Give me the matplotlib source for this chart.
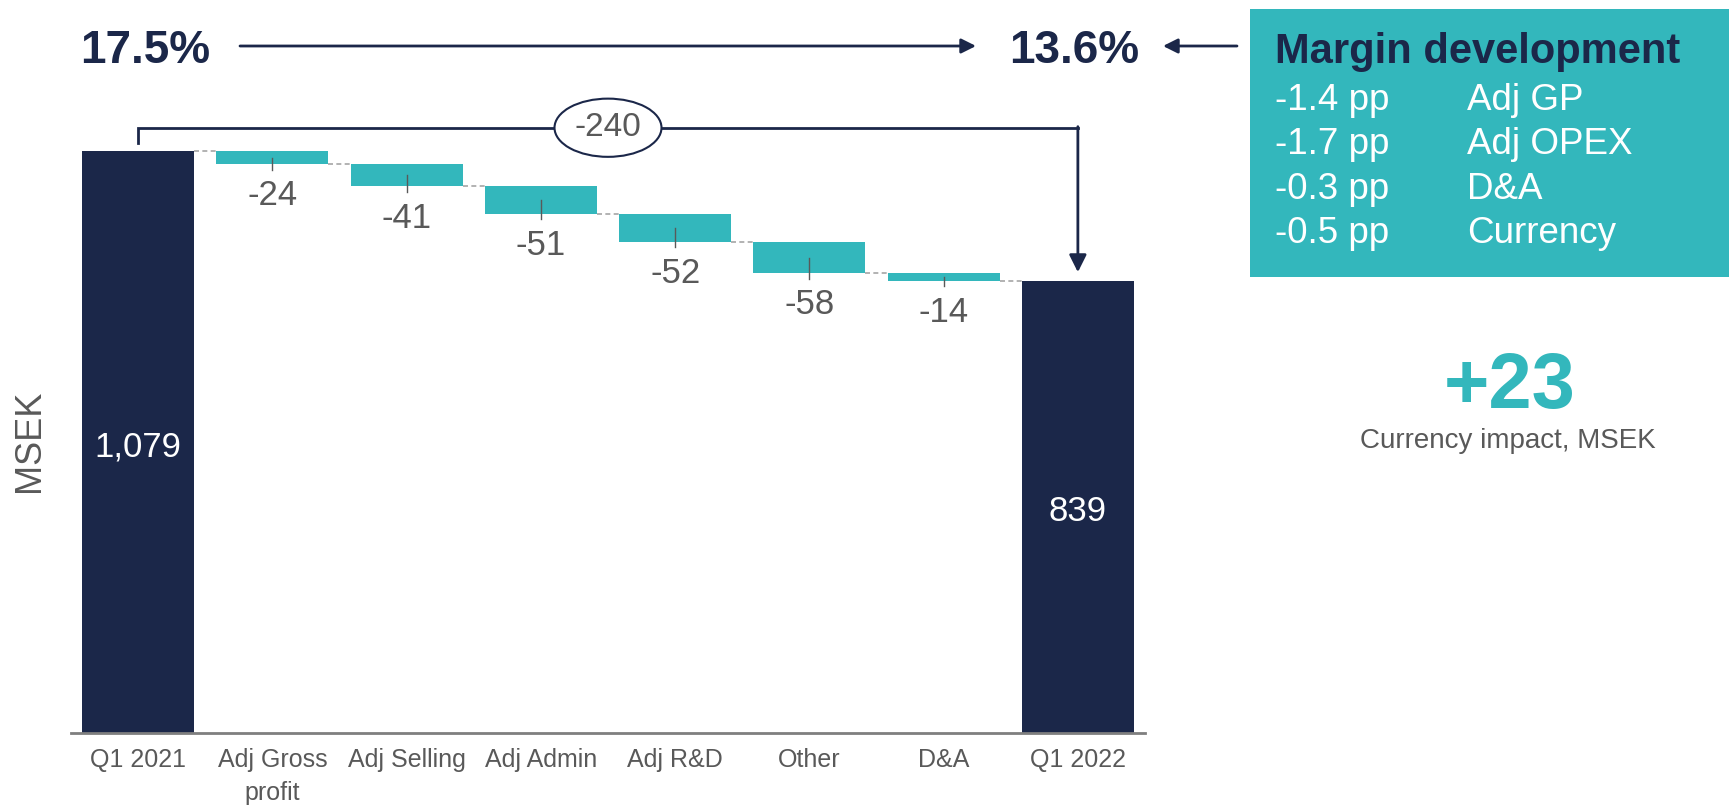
import matplotlib.pyplot as plt
from matplotlib.patches import Ellipse, Rectangle
import numpy as np

# data
categories = ['Q1 2021', 'Adj Gross\nprofit', 'Adj Selling', 'Adj Admin',
              'Adj R&D', 'Other', 'D&A', 'Q1 2022']
start_value = 1079
deltas = [-24, -41, -51, -52, -58, -14]
end_value = 839
total_change = -240
margin_start = '17.5%'
margin_end = '13.6%'
margin_values = ['-1.4 pp', '-1.7 pp', '-0.3 pp', '-0.5 pp']
margin_labels = ['Adj GP', 'Adj OPEX', 'D&A', 'Currency']
currency_impact = '+23'

NAVY = '#1b2749'
TEAL = '#33b7bc'
GRAY = '#595959'

plt.rcParams['font.family'] = ['Liberation Sans', 'DejaVu Sans']

W, H = 1729, 805
fig = plt.figure(figsize=(W / 100, H / 100), dpi=100)
ax = fig.add_axes([71 / W, 1 - 733 / H, 1074 / W, 733 / H])

x = np.arange(len(categories))
width = 0.834
levels = start_value + np.concatenate([[0], np.cumsum(deltas)])

# totals
ax.bar(x[0], start_value, width, color=NAVY, zorder=2)
ax.bar(x[-1], end_value, width, color=NAVY, zorder=2)
ax.text(x[0], start_value / 2 - 8, f'{start_value:,}', ha='center', va='center',
        fontsize=25, color='white', zorder=3)
ax.text(x[-1], end_value / 2 - 8, f'{end_value:,}', ha='center', va='center',
        fontsize=25, color='white', zorder=3)

# deltas
for i, d in enumerate(deltas):
    xi = x[i + 1]
    top = levels[i]
    bot = levels[i + 1]
    ax.bar(xi, top - bot, width, bottom=bot, color=TEAL, zorder=2)
    ax.plot([xi, xi], [(top + bot) / 2, bot - 10], color=GRAY, lw=1, zorder=3)
    ax.annotate(f'{d}', (xi, bot - 10), xytext=(0, -7), textcoords='offset points',
                ha='center', va='top', fontsize=25, color=GRAY)

# connectors
for i in range(len(categories) - 1):
    ax.plot([x[i] + width / 2, x[i + 1] - width / 2], [levels[i], levels[i]],
            ls=(0, (3, 2)), color='#a6a6a6', lw=1.2, zorder=1)

# bracket with total change
y_br = 1123
ax.plot([x[0], x[0], x[-1]], [1095, y_br, y_br], color=NAVY, lw=2,
        solid_joinstyle='miter', clip_on=False, zorder=4)
ax.annotate('', xy=(x[-1], 855), xytext=(x[-1], y_br + 2),
            arrowprops=dict(arrowstyle='-|>', color=NAVY, lw=2,
                            mutation_scale=26, shrinkA=0, shrinkB=0),
            annotation_clip=False, zorder=4)
mid = (x[0] + x[-1]) / 2
ax.add_patch(Ellipse((mid, y_br), 0.797, 108, facecolor='white', edgecolor=NAVY,
                     lw=1.5, zorder=5, clip_on=False))
ax.text(mid, y_br, f'{total_change}', ha='center', va='center', fontsize=24,
        color=GRAY, zorder=6)

ax.set_xlim(-0.5, 7.5)
ax.set_ylim(0, 1360)
ax.set_xticks(x)
ax.set_xticklabels(categories, fontsize=18, color=GRAY, linespacing=1.45)
ax.tick_params(axis='x', length=0, pad=11)
ax.set_yticks([])
for s in ['left', 'right', 'top']:
    ax.spines[s].set_visible(False)
ax.spines['bottom'].set_color('#7f7f7f')
ax.spines['bottom'].set_linewidth(2)

fig.text(30 / W, 1 - 441 / H, 'MSEK', rotation=90, ha='center', va='center',
         fontsize=26, color=GRAY)

# margin arrow row
fig.text(80 / W, 1 - 63 / H, margin_start, fontsize=33, fontweight='bold',
         color=NAVY, va='baseline')
fig.text(1009 / W, 1 - 63 / H, margin_end, fontsize=33, fontweight='bold',
         color=NAVY, va='baseline')
arrow_kw = dict(arrowstyle='-|>', color=NAVY, lw=2, mutation_scale=22,
                shrinkA=0, shrinkB=0)
ax.annotate('', xy=(976 / W, 1 - 46 / H), xycoords='figure fraction',
            xytext=(240 / W, 1 - 46 / H), textcoords='figure fraction',
            arrowprops=arrow_kw, annotation_clip=False)
ax.annotate('', xy=(1163 / W, 1 - 46 / H), xycoords='figure fraction',
            xytext=(1237 / W, 1 - 46 / H), textcoords='figure fraction',
            arrowprops=arrow_kw, annotation_clip=False)

# margin development box
fig.add_artist(Rectangle((1250 / W, 1 - 277 / H), 1 - 1250 / W, 268 / H,
                         transform=fig.transFigure, facecolor=TEAL,
                         edgecolor='none', zorder=1))
fig.text(1275 / W, 1 - 63 / H, 'Margin development', fontsize=30,
         fontweight='bold', color=NAVY, va='baseline', zorder=2)
for k, (v, lab) in enumerate(zip(margin_values, margin_labels)):
    yb = 1 - (110 + 44.3 * k) / H
    fig.text(1275 / W, yb, v, fontsize=26.5, color='white', va='baseline', zorder=2)
    fig.text(1467 / W, yb, lab, fontsize=26.5, color='white', va='baseline', zorder=2)

fig.text(1510 / W, 1 - 408 / H, currency_impact, fontsize=56, fontweight='bold',
         color=TEAL, ha='center', va='baseline')
fig.text(1508 / W, 1 - 448 / H, 'Currency impact, MSEK', fontsize=20,
         color=GRAY, ha='center', va='baseline')

fig.savefig('out.png', dpi=100)
